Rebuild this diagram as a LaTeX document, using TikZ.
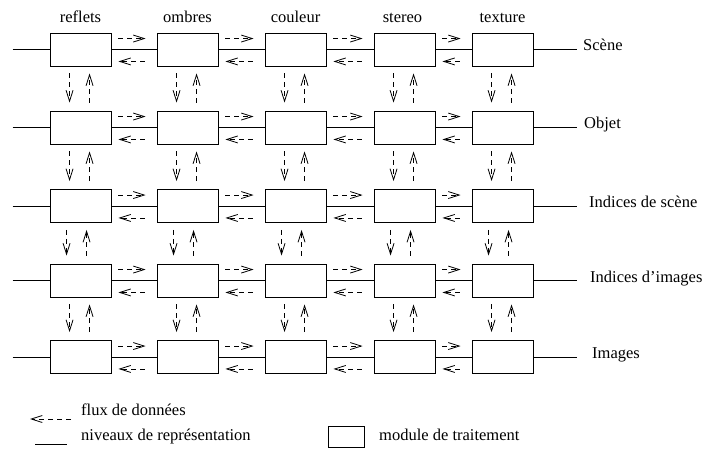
\documentclass[tikz,border=0pt]{standalone}
\usepackage{fontspec}
\setmainfont{Liberation Serif}
\usetikzlibrary{arrows.meta,calc}

\begin{document}
\begin{tikzpicture}[x=1pt,y=-1pt,
  module/.style={draw, line width=0.9pt, fill=white, minimum width=61pt,
                 minimum height=33pt, inner sep=0pt},
  level/.style={line width=0.9pt},
  flow/.style={line width=0.8pt, dash pattern=on 5pt off 4pt,
               -{Straight Barb[length=11pt,width=7pt,line width=0.8pt]}},
  lbl/.style={font=\fontsize{16.5}{18}\selectfont, inner sep=0pt,
              text height=11pt, text depth=3pt}]
\useasboundingbox (0,0) rectangle (708,449);

% processing modules, one per level and per cue
\foreach \y [count=\r] in {49.5,127.5,206,280.5,357}{
  \foreach \x [count=\c] in {80.5,187.5,295.5,404.5,502.5}{
    \node[module] (b-\r-\c) at (\x,\y) {};
  }
}

% cue names above the columns
\foreach \x/\t [count=\c] in {80.5/reflets,187.5/ombres,295.5/couleur,402.5/stereo,502.5/texture}{
  \node[lbl] (t-\c) at (\x,19) {\t};
}

% representation levels: line ends and names
\foreach \y/\lx/\t [count=\r] in {49.5/583/Scène,127.5/584/Objet,206/589/Indices de scène,280.5/590/Indices d’images,357/592/Images}{
  \coordinate (L-\r) at (12.5,\y);
  \coordinate (R-\r) at (577,\y);
  \node[lbl, anchor=west] (n-\r) at (\lx,\y-2.5) {\t};
  \draw[level] (L-\r) -- (b-\r-1) -- (b-\r-2) -- (b-\r-3) -- (b-\r-4) -- (b-\r-5) -- (R-\r);
}

% data flow along a level
\foreach \r in {1,...,5}{
  \foreach \c [evaluate=\c as \n using int(\c+1)] in {1,...,4}{
    \draw[flow] ($(b-\r-\c.north east)+(7,6)$) -- ($(b-\r-\n.north west)+(-11,6)$);
    \draw[flow] ($(b-\r-\n.south west)+(-12,-5)$) -- ($(b-\r-\c.south east)+(7,-5)$);
  }
}

% data flow between levels
\foreach \r/\dx in {1/20,2/20,3/17,4/20}{
  \pgfmathtruncatemacro{\n}{\r+1}
  \pgfmathsetmacro{\ux}{\dx+20}
  \foreach \c in {1,...,5}{
    \draw[flow] ($(b-\r-\c.south west)+(\dx,7)$) -- ($(b-\n-\c.north west)+(\dx,-8)$);
    \draw[flow] ($(b-\n-\c.north west)+(\ux,-8)$) -- ($(b-\r-\c.south west)+(\ux,7)$);
  }
}

% legend
\coordinate (fa) at (71,419);
\coordinate (fb) at (30,419);
\draw[flow] (fa) -- (fb);
\node[lbl, anchor=west] (lf) at (81,411) {flux de données};
\coordinate (la) at (35,444);
\coordinate (lb) at (67,444);
\draw[level] (la) -- (lb);
\node[lbl, anchor=west] (ln) at (81,436) {niveaux de représentation};
\node[module, minimum width=36pt, minimum height=21pt] (lm) at (346,437) {};
\node[lbl, anchor=west] (lt) at (379,436) {module de traitement};
\end{tikzpicture}
\end{document}
